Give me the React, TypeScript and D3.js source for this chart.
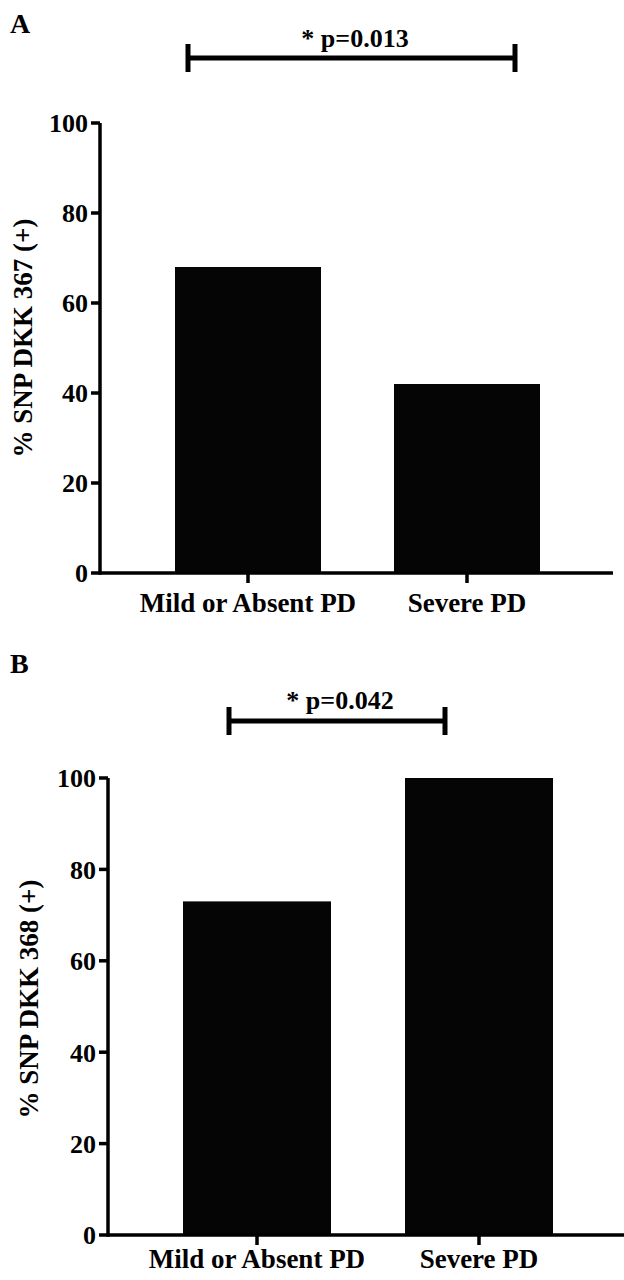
import React from "react";
import * as d3 from "d3";

const categories = ["Mild or Absent PD", "Severe PD"];
const valuesA = [68, 42];
const valuesB = [73, 100];
const yTicks = [0, 20, 40, 60, 80, 100];
const pLabelA = "* p=0.013";
const pLabelB = "* p=0.042";
const yLabelA = "% SNP DKK 367 (+)";
const yLabelB = "% SNP DKK 368 (+)";

const FONT = "'Liberation Serif', 'Times New Roman', serif";

type PanelProps = {
  letter: string;
  letterY: number;
  values: number[];
  yLabel: string;
  yLabelX: number;
  yLabelY: number;
  axisX: number;
  y0: number;
  y100: number;
  bandRange: [number, number];
  axisEnd: number;
  xLabelDy: number;
  sig: { x1: number; x2: number; y: number; h: number; text: string; tx: number; ty: number };
};

function Panel(p: PanelProps) {
  const x = d3.scaleBand<string>().domain(categories).range(p.bandRange).paddingInner(1 / 3).paddingOuter(1 / 3);
  const y = d3.scaleLinear().domain([0, 100]).range([p.y0, p.y100]);
  const sw = 3.5;
  return (
    <g>
      <text x={10} y={p.letterY} fontFamily={FONT} fontWeight="bold" fontSize={28} fill="#000">
        {p.letter}
      </text>
      {/* significance bracket */}
      <g stroke="#000" strokeWidth={5}>
        <line x1={p.sig.x1} x2={p.sig.x2} y1={p.sig.y} y2={p.sig.y} />
        <line x1={p.sig.x1} x2={p.sig.x1} y1={p.sig.y - p.sig.h} y2={p.sig.y + p.sig.h} />
        <line x1={p.sig.x2} x2={p.sig.x2} y1={p.sig.y - p.sig.h} y2={p.sig.y + p.sig.h} />
      </g>
      <text x={p.sig.tx} y={p.sig.ty} textAnchor="middle" fontFamily={FONT} fontWeight="bold" fontSize={26} fill="#000">
        {p.sig.text}
      </text>
      {/* bars */}
      {categories.map((c, i) => (
        <rect
          key={c}
          x={x(c)}
          y={y(p.values[i])}
          width={x.bandwidth()}
          height={y(0) - y(p.values[i])}
          fill="#050505"
        />
      ))}
      {/* y axis */}
      <line x1={p.axisX} x2={p.axisX} y1={y(100)} y2={y(0) + sw / 2} stroke="#000" strokeWidth={sw} />
      {yTicks.map((t) => (
        <g key={t}>
          <line x1={p.axisX - 9} x2={p.axisX} y1={y(t)} y2={y(t)} stroke="#000" strokeWidth={sw} />
          <text
            x={p.axisX - 12}
            y={y(t)}
            dy="0.36em"
            textAnchor="end"
            fontFamily={FONT}
            fontWeight="bold"
            fontSize={26}
            fill="#000"
          >
            {t}
          </text>
        </g>
      ))}
      {/* x axis */}
      <line x1={p.axisX} x2={p.axisEnd} y1={y(0)} y2={y(0)} stroke="#000" strokeWidth={sw} />
      {categories.map((c) => {
        const cx = (x(c) as number) + x.bandwidth() / 2;
        return (
          <g key={c}>
            <line x1={cx} x2={cx} y1={y(0)} y2={y(0) + 10} stroke="#000" strokeWidth={sw} />
            <text
              x={cx}
              y={y(0) + p.xLabelDy}
              textAnchor="middle"
              fontFamily={FONT}
              fontWeight="bold"
              fontSize={27}
              fill="#000"
            >
              {c}
            </text>
          </g>
        );
      })}
      <text
        transform={`translate(${p.yLabelX},${p.yLabelY}) rotate(-90)`}
        textAnchor="middle"
        fontFamily={FONT}
        fontWeight="bold"
        fontSize={27}
        fill="#000"
      >
        {p.yLabel}
      </text>
    </g>
  );
}

export default function App() {
  return (
    <svg
      width={624}
      height={1280}
      viewBox="0 0 624 1280"
      style={{ position: "absolute", left: 0, top: 0, background: "#fff" }}
    >
      <rect width={624} height={1280} fill="#fff" />
      <Panel
        letter="A"
        letterY={33}
        values={valuesA}
        yLabel={yLabelA}
        yLabelX={32}
        yLabelY={338}
        axisX={100}
        y0={573}
        y100={123}
        bandRange={[102, 613]}
        axisEnd={613}
        xLabelDy={39}
        sig={{ x1: 188, x2: 515, y: 58, h: 14, text: pLabelA, tx: 355, ty: 47 }}
      />
      <Panel
        letter="B"
        letterY={673}
        values={valuesB}
        yLabel={yLabelB}
        yLabelX={38}
        yLabelY={999}
        axisX={108}
        y0={1235}
        y100={778}
        bandRange={[109, 627]}
        axisEnd={624}
        xLabelDy={33}
        sig={{ x1: 229, x2: 445, y: 721, h: 14, text: pLabelB, tx: 340, ty: 709 }}
      />
    </svg>
  );
}
